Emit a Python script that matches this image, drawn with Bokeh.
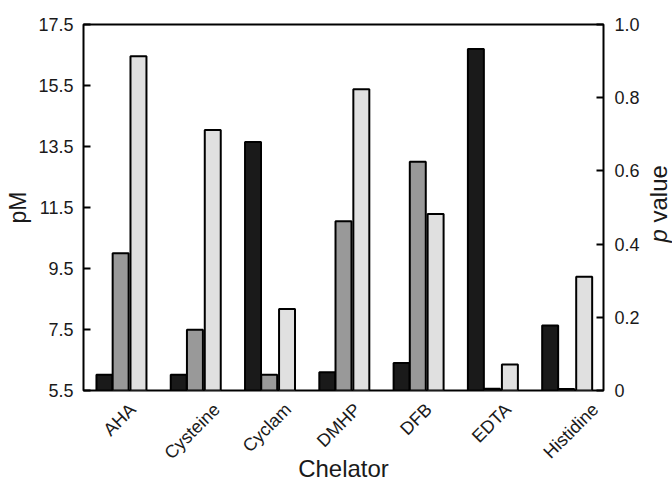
import math
from bokeh.plotting import figure
from bokeh.models import (Range1d, LinearAxis, FixedTicker,
                          CustomJSTickFormatter, ColumnDataSource, Label)
from bokeh.transform import dodge
from bokeh.embed import file_html
from bokeh.resources import INLINE

# ---- data ----
chelators = ["AHA", "Cysteine", "Cyclam", "DMHP", "DFB", "EDTA", "Histidine"]
pm_dark = [6.02, 6.02, 13.65, 6.10, 6.40, 16.70, 7.63]
pm_grey = [10.00, 7.49, 6.02, 11.05, 13.00, 5.56, 5.55]
p_light = [0.913, 0.712, 0.223, 0.823, 0.482, 0.071, 0.311]
pm_ticks = [5.5, 7.5, 9.5, 11.5, 13.5, 15.5, 17.5]
p_ticks = [0, 0.2, 0.4, 0.6, 0.8, 1.0]

# layout only: shift (px) of each rotated category label so that it sits centred
label_shift_px = [12, 22, 19, 14, 11, 16, 29]

FONT = "Liberation Sans"
TXT = "#1a1a1a"
N = len(chelators)
GROUP_PX = 520 / N

p = figure(x_range=Range1d(0, N), y_range=Range1d(5.5, 17.5),
           width=672, height=485, output_backend="svg", toolbar_location=None,
           x_axis_location=None,
           min_border_left=83, min_border_right=69, min_border_top=24,
           min_border_bottom=95)
p.extra_y_ranges = {"p": Range1d(0, 1)}
p.xgrid.visible = False
p.ygrid.visible = False
p.outline_line_color = "black"
p.outline_line_width = 2
p.background_fill_color = "white"
p.border_fill_color = "white"

src = ColumnDataSource(dict(pos=[i + 0.5 for i in range(N)], cat=chelators,
                            dark=pm_dark, grey=pm_grey, light=p_light))

W = 0.215
p.vbar(x=dodge("pos", -0.218), top="dark", bottom=5.5, width=W,
       source=src, fill_color="#1a1a1a", line_color="black", line_width=2)
p.vbar(x=dodge("pos", 0.0), top="grey", bottom=5.5, width=W,
       source=src, fill_color="#999999", line_color="black", line_width=2)
p.vbar(x=dodge("pos", 0.24), top="light", bottom=0, width=W,
       source=src, fill_color="#e0e0e0", line_color="black", line_width=2,
       y_range_name="p")

def style_y(ax, standoff):
    ax.axis_line_color = None
    ax.major_tick_in = 7
    ax.major_tick_out = 0
    ax.major_tick_line_width = 2
    ax.major_tick_line_color = "black"
    ax.minor_tick_line_color = None
    ax.major_label_standoff = standoff
    ax.major_label_text_font = FONT
    ax.major_label_text_font_size = "18px"
    ax.major_label_text_color = TXT

def style_label(ax, size, style="normal"):
    ax.axis_label_text_font = FONT
    ax.axis_label_text_font_size = size
    ax.axis_label_text_font_style = style
    ax.axis_label_text_color = TXT

# left axis
ly = p.yaxis[0]
ly.ticker = FixedTicker(ticks=pm_ticks)
ly.formatter = CustomJSTickFormatter(code="return tick.toFixed(1);")
style_y(ly, 10)
ly.axis_label = "pM"
ly.axis_label_standoff = 4
style_label(ly, "23px")

# right axis (ticks and numbers)
ry = LinearAxis(y_range_name="p", ticker=FixedTicker(ticks=p_ticks),
                formatter=CustomJSTickFormatter(code="return tick == 0 ? '0' : tick.toFixed(1);"))
style_y(ry, 11)
p.add_layout(ry, "right")

# right title "p value" (italic p), reading upwards; placed in side panels so it is not clipped
p.add_layout(Label(x=N, y=5.5, x_offset=55, y_offset=168, text="value", angle=math.pi / 2,
                   text_align="left", text_baseline="middle", text_font=FONT,
                   text_font_size="24px", text_color=TXT), "right")
p.add_layout(Label(x=N, y=5.5, x_offset=55, y_offset=148, text="p", angle=math.pi / 2,
                   text_align="left", text_baseline="middle", text_font=FONT,
                   text_font_style="italic", text_font_size="24px", text_color=TXT), "above")

# bottom axis with the rotated chelator names
tick_pos = [i + 0.5 + s / GROUP_PX for i, s in enumerate(label_shift_px)]
bx = LinearAxis(ticker=FixedTicker(ticks=tick_pos),
                formatter=CustomJSTickFormatter(args=dict(names=chelators),
                                                code="return names[Math.floor(tick)];"))
bx.axis_line_color = None
bx.major_tick_line_color = None
bx.minor_tick_line_color = None
bx.major_label_orientation = math.pi / 4
bx.major_label_standoff = 10
bx.major_label_text_font = FONT
bx.major_label_text_font_size = "18px"
bx.major_label_text_color = TXT
bx.axis_label = "Chelator"
bx.axis_label_standoff = -18
style_label(bx, "24px")
p.add_layout(bx, "below")

open("out.html", "w").write(file_html(p, INLINE))
